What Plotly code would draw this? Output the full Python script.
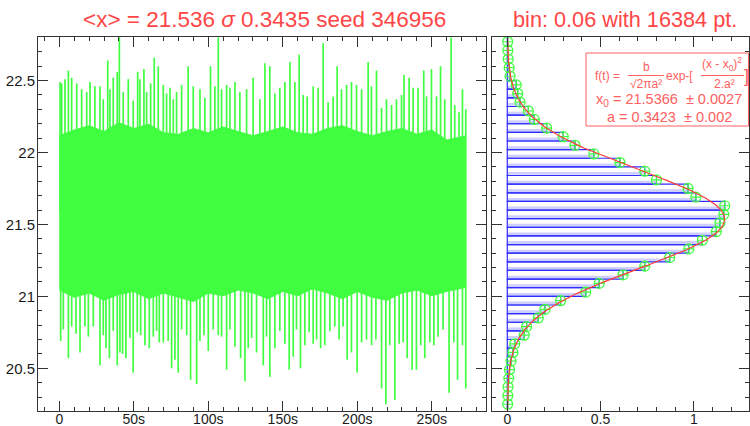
import numpy as np
import plotly.graph_objects as go

# ---------------- data ----------------
n_points = 16384
sample_rate = 60.0          # points per second -> 16384 pt ~ 273 s
mean_x = 21.536
sigma_x = 0.3435
seed = 346956

# edges of the dense (fully filled) part of the noisy trace
dense_t = [0, 10, 20, 30, 40, 50, 60, 70, 80, 90, 100, 110, 120, 130, 140, 150, 160, 170,
           180, 190, 200, 210, 220, 230, 240, 250, 260, 273]
dense_hi = [22.12, 22.16, 22.19, 22.15, 22.21, 22.17, 22.20, 22.14, 22.13, 22.17, 22.14,
            22.18, 22.15, 22.12, 22.15, 22.18, 22.14, 22.13, 22.17, 22.19, 22.15, 22.12,
            22.15, 22.17, 22.13, 22.16, 22.09, 22.12]
dense_lo = [21.04, 20.99, 21.02, 20.97, 21.01, 21.03, 20.98, 21.02, 20.99, 20.96, 21.02,
            21.00, 21.04, 21.02, 20.98, 21.03, 21.00, 21.05, 21.02, 20.98, 21.03, 20.99,
            20.97, 21.02, 21.04, 21.00, 21.03, 21.06]

# upper spikes of the trace: time (s), value
upper_t = [0.5, 1.6, 3.8, 6.1, 8.3, 11.7, 15.0, 18.4, 20.6, 23.9, 27.3, 29.5, 32.5, 34.0, 36.2,
           38.9, 40.3, 42.9, 46.3, 49.6, 52.6, 54.1, 56.8, 58.6, 61.3, 63.7, 66.4, 69.8, 72.0,
           74.3, 76.5, 78.7, 82.1, 86.5, 89.9, 94.4, 97.7, 101.5, 104.4, 106.7, 108.9, 112.3,
           114.5, 117.9, 121.2, 125.7,
           130.1, 134.6, 138.0, 141.3, 144.7, 148.0, 151.4, 154.8, 158.1, 161.0, 163.7, 166.4,
           170.4, 173.7, 177.1, 180.4, 183.8, 186.5, 189.4, 192.8, 196.1, 199.5, 202.9, 207.3,
           209.5, 212.9, 216.3, 219.6, 223.0, 226.3, 229.7, 231.4, 234.8, 237.5, 240.8, 244.6,
           246.5, 249.8, 253.2, 255.9, 258.7, 263.0, 265.4, 268.3, 270.6, 272.8]
upper_v = [22.49, 22.48, 22.51, 22.57, 22.52, 22.48, 22.44, 22.42, 22.49, 22.46, 22.46, 22.37,
           22.64, 22.44, 22.52, 22.56, 22.80, 22.42, 22.51, 22.36, 22.56, 22.51, 22.58, 22.42,
           22.48, 22.66, 22.60, 22.47, 22.41, 22.45, 22.37, 22.42, 22.47, 22.60, 22.46, 22.44,
           22.38, 22.60, 22.46, 22.80, 22.44, 22.47, 22.45, 22.49, 22.42, 22.44,
           22.52, 22.37, 22.62, 22.60, 22.41, 22.45, 22.49, 22.63, 22.49, 22.68, 22.40, 22.39,
           22.46, 22.45, 22.76, 22.35, 22.39, 22.60, 22.44, 22.47, 22.49, 22.47, 22.44, 22.63,
           22.46, 22.57, 22.31, 22.37, 22.33, 22.37, 22.40, 22.54, 22.52, 22.45, 22.45, 22.57,
           22.39, 22.58, 22.39, 22.60, 22.37, 22.80, 22.33, 22.28, 22.44, 22.30]

# lower spikes of the trace: time (s), value
lower_t = [0.9, 2.7, 6.1, 8.3, 11.2, 13.9, 17.2, 19.5, 22.8, 27.3, 29.5, 31.3, 33.6, 36.2, 38.9,
           40.7, 42.5, 44.7, 47.4, 49.6, 52.3, 54.6, 57.5, 60.4, 63.1, 65.3, 67.1, 69.8, 73.1,
           75.4, 77.6, 79.8, 82.1, 85.5, 88.1, 92.2, 94.4, 97.1, 100.0, 103.3, 106.7, 108.9,
           112.3, 114.5, 117.9, 121.7, 124.6, 126.8,
           129.1, 132.4, 136.9, 139.1, 141.3, 144.7, 148.0, 151.4, 154.3, 157.0, 159.2, 161.9,
           164.8, 167.7, 170.4, 172.7, 175.4, 178.2, 181.6, 184.9, 187.8, 190.5, 193.2, 196.1,
           199.9, 202.9, 206.2, 209.6, 212.5, 216.3, 219.2, 221.8, 225.2, 228.1, 230.8, 233.5,
           236.8, 239.7, 242.6, 245.3, 248.7, 251.4, 254.2, 257.6, 261.6, 264.8, 267.3, 270.6,
           272.8]
lower_v = [20.69, 20.77, 20.57, 20.79, 20.74, 20.61, 20.79, 20.72, 20.79, 20.52, 20.73, 20.64,
           20.57, 20.76, 20.52, 20.61, 20.60, 20.57, 20.71, 20.47, 20.75, 20.73, 20.66, 20.64,
           20.72, 20.76, 20.68, 20.68, 20.69, 20.50, 20.56, 20.47, 20.77, 20.73, 20.42, 20.39,
           20.69, 20.73, 20.62, 20.77, 20.73, 20.72, 20.49, 20.77, 20.65, 20.57, 20.41, 20.64,
           20.71, 20.61, 20.52, 20.72, 20.44, 20.64, 20.76, 20.67, 20.49, 20.58, 20.77, 20.50,
           20.66, 20.75, 20.67, 20.70, 20.64, 20.66, 20.76, 20.79, 20.70, 20.79, 20.56, 20.61,
           20.47, 20.68, 20.70, 20.66, 20.70, 20.36, 20.25, 20.66, 20.28, 20.67, 20.68, 20.57,
           20.49, 20.49, 20.66, 20.57, 20.68, 20.66, 20.72, 20.77, 20.33, 20.68, 20.42, 20.66,
           20.36]

# histogram (bin 0.06), normalised density, bins listed from low to high
bin_width = 0.06
bin_centers = [20.25, 20.31, 20.37, 20.43, 20.49, 20.55, 20.61, 20.67, 20.73, 20.79, 20.85,
               20.91, 20.97, 21.03, 21.09, 21.15, 21.21, 21.27, 21.33, 21.39, 21.45, 21.51,
               21.57, 21.63, 21.69, 21.75, 21.81, 21.87, 21.93, 21.99, 22.05, 22.11, 22.17,
               22.23, 22.29, 22.35, 22.41, 22.47, 22.53, 22.59, 22.65, 22.71, 22.77]
hist_density = [0.002, 0.003, 0.004, 0.008, 0.012, 0.020, 0.030, 0.040, 0.091, 0.104, 0.166,
                0.202, 0.286, 0.421, 0.493, 0.621, 0.737, 0.871, 0.973, 1.046, 1.121, 1.140,
                1.161, 1.166, 1.011, 0.969, 0.800, 0.737, 0.604, 0.464, 0.363, 0.300, 0.211,
                0.145, 0.113, 0.068, 0.056, 0.048, 0.015, 0.010, 0.005, 0.003, 0.002]

# gaussian fit parameters shown in the box
fit_x0 = 21.5366
fit_x0_err = 0.0027
fit_a = 0.3423
fit_a_err = 0.002
fit_b = 1.0

x_ticks = [0, 50, 100, 150, 200, 250]
x_ticktext = ["0", "50s", "100s", "150s", "200s", "250s"]
hist_ticks = [0, 0.5, 1]
hist_ticktext = ["0", "0.5", "1"]

# ---------------- styling ----------------
GREEN = "#40ff40"
RED = "#ff4646"
BLUE = "#2e2eff"
AX = "#333333"
FONT = "Liberation Sans, Arial, sans-serif"

W, H = 750, 426
ML, MR, MT, MB = 38, 1, 37, 15
PW, PH = W - ML - MR, H - MT - MB


def px(x):
    return (x - ML) / PW


def py(y):
    return (H - MB - y) / PH


mid = 0.5 * (dense_hi[0] + dense_lo[0])

# vertical sticks for the spikes, anchored inside the dense band
st_x, st_y = [], []
for t, v in zip(upper_t, upper_v):
    st_x += [t, t, None]
    st_y += [mid, v, None]
for t, v in zip(lower_t, lower_v):
    st_x += [t, t, None]
    st_y += [mid, v, None]

fig = go.Figure()

# left panel : dense band + spikes
fig.add_trace(go.Scatter(x=dense_t + dense_t[::-1] + [dense_t[0]],
                         y=dense_hi + dense_lo[::-1] + [dense_hi[0]],
                         mode="lines", fill="toself", fillcolor=GREEN,
                         line=dict(width=0), xaxis="x", yaxis="y", hoverinfo="skip"))
fig.add_trace(go.Scatter(x=st_x, y=st_y, mode="lines", connectgaps=False,
                         line=dict(color=GREEN, width=1.7), xaxis="x", yaxis="y"))

# right panel : histogram
fig.add_trace(go.Bar(x=hist_density, y=bin_centers, orientation="h",
                     width=bin_width * 0.32, offset=-bin_width * 0.42,
                     marker=dict(color="rgba(120,120,255,0.36)", line=dict(width=0)),
                     xaxis="x2", yaxis="y2"))
fig.add_trace(go.Bar(x=hist_density, y=bin_centers, orientation="h",
                     width=bin_width,
                     marker=dict(color="rgba(0,0,0,0)", line=dict(color=BLUE, width=1.2)),
                     xaxis="x2", yaxis="y2"))
fig.add_trace(go.Scatter(x=hist_density, y=bin_centers, mode="markers",
                         marker=dict(symbol="circle-cross-open", size=10,
                                     color=GREEN, line=dict(color=GREEN, width=1.2)),
                         xaxis="x2", yaxis="y2"))

# fitted gaussian (from the parameters in the box)
yf = np.linspace(20.2, 22.8, 400)
xf = fit_b / np.sqrt(2 * np.pi * fit_a ** 2) * np.exp(-(yf - fit_x0) ** 2 / (2 * fit_a ** 2))
fig.add_trace(go.Scatter(x=xf, y=yf, mode="lines", line=dict(color="#ff3a3a", width=1.2),
                         xaxis="x2", yaxis="y2"))

axis_common = dict(showline=True, linecolor=AX, linewidth=1, mirror="allticks",
                   ticks="inside", ticklen=10, tickcolor=AX, tickwidth=1,
                   showgrid=False, zeroline=False, automargin=False)
yfont = dict(family=FONT, size=15, color="#1a1a1a")
xfont = dict(family=FONT, size=14, color="#1a1a1a")

fig.update_layout(
    width=W, height=H,
    margin=dict(l=ML, r=MR, t=MT, b=MB, autoexpand=False),
    plot_bgcolor="white", paper_bgcolor="white",
    showlegend=False, barmode="overlay",
    font=dict(family=FONT),
    xaxis=dict(domain=[0, px(486)], range=[-14.3, 286.4], tickmode="array",
               tickvals=x_ticks, ticktext=x_ticktext, ticklabelstandoff=-5, tickfont=xfont,
               minor=dict(dtick=10, tick0=0, ticklen=4, ticks="inside", tickcolor=AX),
               anchor="y", **axis_common),
    yaxis=dict(domain=[0, 1], range=[20.203, 22.803], dtick=0.5, tick0=0,
               ticklabelstandoff=-1, tickfont=yfont,
               minor=dict(dtick=0.1, tick0=0, ticklen=4, ticks="inside", tickcolor=AX),
               anchor="x", **axis_common),
    xaxis2=dict(domain=[px(492), 1], range=[-0.082, 1.296], tickmode="array",
                tickvals=hist_ticks, ticktext=hist_ticktext, ticklabelstandoff=-5,
                tickfont=xfont,
                minor=dict(dtick=0.1, tick0=0, ticklen=4, ticks="inside", tickcolor=AX),
                anchor="y2", **axis_common),
    yaxis2=dict(domain=[0, 1], range=[20.203, 22.803], dtick=0.5, tick0=0,
                showticklabels=False,
                minor=dict(dtick=0.1, tick0=0, ticklen=4, ticks="inside", tickcolor=AX),
                anchor="x2", **axis_common),
)

ann = []


def text(x, y, s, size, color=RED, xanchor="center"):
    ann.append(dict(x=px(x), y=py(y), xref="paper", yref="paper", text=s, showarrow=False,
                    xanchor=xanchor, yanchor="middle",
                    font=dict(family=FONT, size=size, color=color)))


# titles
text(264, 19, "&lt;x&gt; = %.3f <i>σ</i> %.4f seed %d" % (mean_x, sigma_x, seed), 22.5)
text(625, 19, "bin: %.2f with %d pt." % (bin_width, n_points), 21.7)

# fit box
BOXC = "#ff6060"
text(607, 76, "f(t) =", 12, BOXC)
text(646, 67, "b", 12, BOXC)
text(646, 84, "√2πa²", 12, BOXC)
text(679, 76, "exp-[", 12, BOXC)
text(722, 64, "(x - x<sub>0</sub>)<sup>2</sup>", 12, BOXC)
text(724, 84, "2.a²", 12, BOXC)
text(746, 76, "]", 18, BOXC)
text(669, 100, "x<sub>0</sub> = %.4f  ± %.4f" % (fit_x0, fit_x0_err), 14.5, BOXC)
text(669, 117, "a = %.4f  ± %.3f" % (fit_a, fit_a_err), 14.5, BOXC)

shapes = [
    dict(type="rect", xref="paper", yref="paper", x0=px(586), x1=px(748.5), y0=py(53),
         y1=py(126), line=dict(color=BOXC, width=1), fillcolor="rgba(255,255,255,1)",
         layer="above"),
    dict(type="line", xref="paper", yref="paper", x0=px(628), x1=px(664), y0=py(75.5),
         y1=py(75.5), line=dict(color=BOXC, width=1)),
    dict(type="line", xref="paper", yref="paper", x0=px(701), x1=px(744), y0=py(75.5),
         y1=py(75.5), line=dict(color=BOXC, width=1)),
]
fig.update_layout(annotations=ann, shapes=shapes)

fig.write_html("out.html", config={"displayModeBar": False},
               post_script="document.body.style.margin='0px';"
                           "document.body.style.overflow='hidden';")
